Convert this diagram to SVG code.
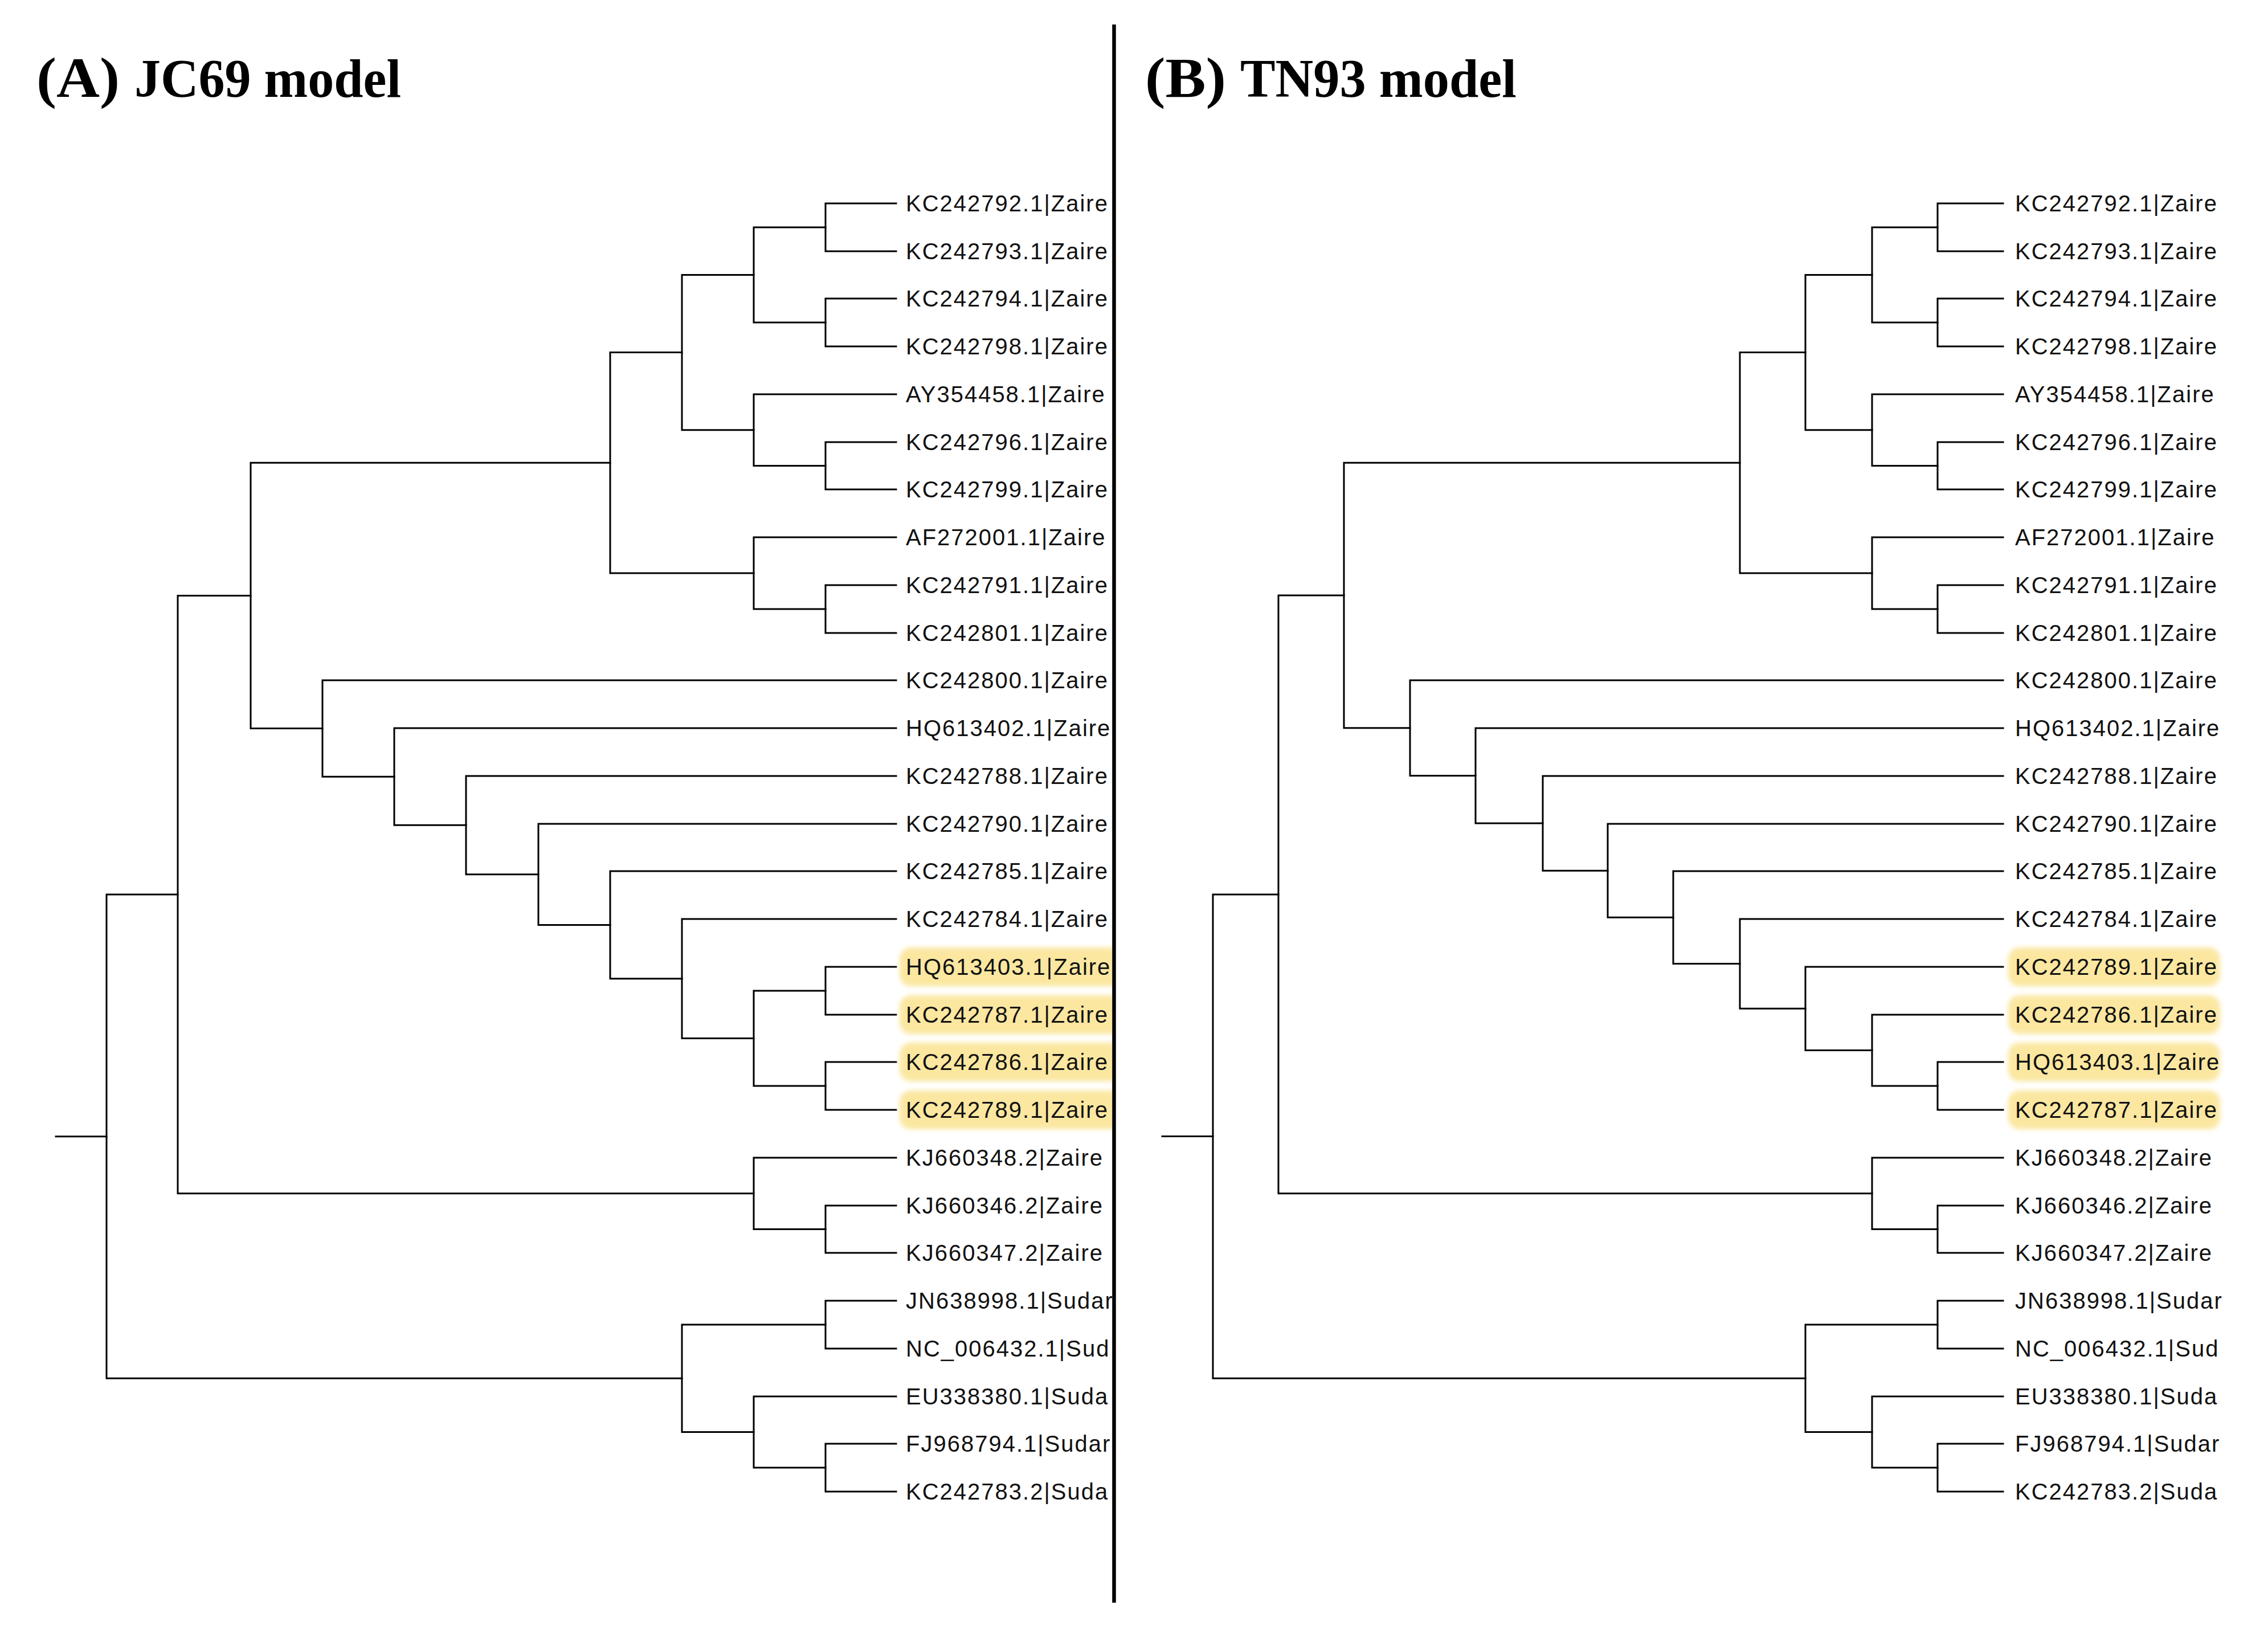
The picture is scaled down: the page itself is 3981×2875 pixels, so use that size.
<svg xmlns="http://www.w3.org/2000/svg" width="3981" height="2875" viewBox="0 0 3981 2875">
<style>
.title{font-family:"Liberation Serif","Times New Roman",serif;font-weight:bold;font-size:96px;fill:#000}
.paren{font-size:100px}
.lab{font-family:"Liberation Sans",Arial,sans-serif;font-size:40px;letter-spacing:2px;fill:#111}
.br{fill:none;stroke:#000;stroke-width:3;stroke-linejoin:miter;stroke-linecap:square}
.hl{fill:#FBE7A0}
</style>
<defs>
<clipPath id="clipA"><rect x="0" y="0" width="1952" height="2875"/></clipPath>
<filter id="soft" x="-10%" y="-40%" width="120%" height="180%"><feGaussianBlur stdDeviation="4"/></filter>
</defs>
<rect width="3981" height="2875" fill="#fff"/>
<g id="title-A"><text class="title paren" x="64" y="170" textLength="146" lengthAdjust="spacingAndGlyphs">(A)</text><text class="title" x="236" y="170" textLength="468" lengthAdjust="spacingAndGlyphs">JC69 model</text></g>
<g id="title-B"><text class="title paren" x="2010" y="170" textLength="142" lengthAdjust="spacingAndGlyphs">(B)</text><text class="title" x="2177" y="170" textLength="485" lengthAdjust="spacingAndGlyphs">TN93 model</text></g>
<g id="divider"><line x1="1955.5" y1="43" x2="1955.5" y2="2813" stroke="#000" stroke-width="6.5"/></g>
<g id="connectors">
<g id="tree-A">
<path class="br" d="M98 1994.7H187"/>
<path class="br" d="M312 1570.1H187V2419.25H1197"/>
<path class="br" d="M440 1045.5H312V2094.75H1323"/>
<path class="br" d="M1071 812.3H440V1278.6H566"/>
<path class="br" d="M1197 618.6H1071V1006H1323"/>
<path class="br" d="M1323 482.5H1197V754.75H1323"/>
<path class="br" d="M1449 399H1323V566H1449"/>
<path class="br" d="M1573 357H1449V441H1573"/>
<path class="br" d="M1573 524H1449V608H1573"/>
<path class="br" d="M1573 692H1323V817.5H1449"/>
<path class="br" d="M1573 776H1449V859H1573"/>
<path class="br" d="M1573 943H1323V1069H1449"/>
<path class="br" d="M1573 1027H1449V1111H1573"/>
<path class="br" d="M1573 1194H566V1363.2H692"/>
<path class="br" d="M1573 1278H692V1448.35H818"/>
<path class="br" d="M1573 1362H818V1534.7H945"/>
<path class="br" d="M1573 1446H945V1623.4H1071"/>
<path class="br" d="M1573 1529H1071V1717.75H1197"/>
<path class="br" d="M1573 1613H1197V1822.5H1323"/>
<path class="br" d="M1449 1739H1323V1906H1449"/>
<path class="br" d="M1573 1697H1449V1781H1573"/>
<path class="br" d="M1573 1864H1449V1948H1573"/>
<path class="br" d="M1573 2032H1323V2157.5H1449"/>
<path class="br" d="M1573 2116H1449V2199H1573"/>
<path class="br" d="M1449 2325H1197V2513.5H1323"/>
<path class="br" d="M1573 2283H1449V2367H1573"/>
<path class="br" d="M1573 2451H1323V2576H1449"/>
<path class="br" d="M1573 2534H1449V2618H1573"/>
</g>
<g id="tree-B">
<path class="br" d="M2040 1994.6H2129"/>
<path class="br" d="M2244 1569.9H2129V2419.25H3169"/>
<path class="br" d="M2359 1045H2244V2094.75H3286"/>
<path class="br" d="M3054 812.3H2359V1277.8H2475"/>
<path class="br" d="M3169 618.6H3054V1006H3286"/>
<path class="br" d="M3286 482.5H3169V754.75H3286"/>
<path class="br" d="M3401 399H3286V566H3401"/>
<path class="br" d="M3516 357H3401V441H3516"/>
<path class="br" d="M3516 524H3401V608H3516"/>
<path class="br" d="M3516 692H3286V817.5H3401"/>
<path class="br" d="M3516 776H3401V859H3516"/>
<path class="br" d="M3516 943H3286V1069H3401"/>
<path class="br" d="M3516 1027H3401V1111H3516"/>
<path class="br" d="M3516 1194H2475V1361.5H2590"/>
<path class="br" d="M3516 1278H2590V1445.1H2708"/>
<path class="br" d="M3516 1362H2708V1528.2H2822"/>
<path class="br" d="M3516 1446H2822V1610.3H2937"/>
<path class="br" d="M3516 1529H2937V1691.6H3054"/>
<path class="br" d="M3516 1613H3054V1770.25H3169"/>
<path class="br" d="M3516 1697H3169V1843.5H3286"/>
<path class="br" d="M3516 1781H3286V1906H3401"/>
<path class="br" d="M3516 1864H3401V1948H3516"/>
<path class="br" d="M3516 2032H3286V2157.5H3401"/>
<path class="br" d="M3516 2116H3401V2199H3516"/>
<path class="br" d="M3401 2325H3169V2513.5H3286"/>
<path class="br" d="M3516 2283H3401V2367H3516"/>
<path class="br" d="M3516 2451H3286V2576H3401"/>
<path class="br" d="M3516 2534H3401V2618H3516"/>
</g>
</g>
<g id="labels-A" clip-path="url(#clipA)">
<g id="A-KC242792"><text class="lab" x="1590" y="371">KC242792.1|Zaire</text></g>
<g id="A-KC242793"><text class="lab" x="1590" y="455">KC242793.1|Zaire</text></g>
<g id="A-KC242794"><text class="lab" x="1590" y="538">KC242794.1|Zaire</text></g>
<g id="A-KC242798"><text class="lab" x="1590" y="622">KC242798.1|Zaire</text></g>
<g id="A-AY354458"><text class="lab" x="1590" y="706">AY354458.1|Zaire</text></g>
<g id="A-KC242796"><text class="lab" x="1590" y="790">KC242796.1|Zaire</text></g>
<g id="A-KC242799"><text class="lab" x="1590" y="873">KC242799.1|Zaire</text></g>
<g id="A-AF272001"><text class="lab" x="1590" y="957">AF272001.1|Zaire</text></g>
<g id="A-KC242791"><text class="lab" x="1590" y="1041">KC242791.1|Zaire</text></g>
<g id="A-KC242801"><text class="lab" x="1590" y="1125">KC242801.1|Zaire</text></g>
<g id="A-KC242800"><text class="lab" x="1590" y="1208">KC242800.1|Zaire</text></g>
<g id="A-HQ613402"><text class="lab" x="1590" y="1292">HQ613402.1|Zaire</text></g>
<g id="A-KC242788"><text class="lab" x="1590" y="1376">KC242788.1|Zaire</text></g>
<g id="A-KC242790"><text class="lab" x="1590" y="1460">KC242790.1|Zaire</text></g>
<g id="A-KC242785"><text class="lab" x="1590" y="1543">KC242785.1|Zaire</text></g>
<g id="A-KC242784"><text class="lab" x="1590" y="1627">KC242784.1|Zaire</text></g>
<g id="A-HQ613403"><rect class="hl" filter="url(#soft)" x="1579" y="1663" width="390" height="68" rx="20"/><text class="lab" x="1590" y="1711">HQ613403.1|Zaire</text></g>
<g id="A-KC242787"><rect class="hl" filter="url(#soft)" x="1579" y="1747" width="390" height="68" rx="20"/><text class="lab" x="1590" y="1795">KC242787.1|Zaire</text></g>
<g id="A-KC242786"><rect class="hl" filter="url(#soft)" x="1579" y="1830" width="390" height="68" rx="20"/><text class="lab" x="1590" y="1878">KC242786.1|Zaire</text></g>
<g id="A-KC242789"><rect class="hl" filter="url(#soft)" x="1579" y="1914" width="390" height="68" rx="20"/><text class="lab" x="1590" y="1962">KC242789.1|Zaire</text></g>
<g id="A-KJ660348"><text class="lab" x="1590" y="2046">KJ660348.2|Zaire</text></g>
<g id="A-KJ660346"><text class="lab" x="1590" y="2130">KJ660346.2|Zaire</text></g>
<g id="A-KJ660347"><text class="lab" x="1590" y="2213">KJ660347.2|Zaire</text></g>
<g id="A-JN638998"><text class="lab" x="1590" y="2297">JN638998.1|Sudar</text></g>
<g id="A-NC_006432"><text class="lab" x="1590" y="2381">NC_006432.1|Sud</text></g>
<g id="A-EU338380"><text class="lab" x="1590" y="2465">EU338380.1|Suda</text></g>
<g id="A-FJ968794"><text class="lab" x="1590" y="2548">FJ968794.1|Sudar</text></g>
<g id="A-KC242783"><text class="lab" x="1590" y="2632">KC242783.2|Suda</text></g>
</g>
<g id="labels-B">
<g id="B-KC242792"><text class="lab" x="3537" y="371">KC242792.1|Zaire</text></g>
<g id="B-KC242793"><text class="lab" x="3537" y="455">KC242793.1|Zaire</text></g>
<g id="B-KC242794"><text class="lab" x="3537" y="538">KC242794.1|Zaire</text></g>
<g id="B-KC242798"><text class="lab" x="3537" y="622">KC242798.1|Zaire</text></g>
<g id="B-AY354458"><text class="lab" x="3537" y="706">AY354458.1|Zaire</text></g>
<g id="B-KC242796"><text class="lab" x="3537" y="790">KC242796.1|Zaire</text></g>
<g id="B-KC242799"><text class="lab" x="3537" y="873">KC242799.1|Zaire</text></g>
<g id="B-AF272001"><text class="lab" x="3537" y="957">AF272001.1|Zaire</text></g>
<g id="B-KC242791"><text class="lab" x="3537" y="1041">KC242791.1|Zaire</text></g>
<g id="B-KC242801"><text class="lab" x="3537" y="1125">KC242801.1|Zaire</text></g>
<g id="B-KC242800"><text class="lab" x="3537" y="1208">KC242800.1|Zaire</text></g>
<g id="B-HQ613402"><text class="lab" x="3537" y="1292">HQ613402.1|Zaire</text></g>
<g id="B-KC242788"><text class="lab" x="3537" y="1376">KC242788.1|Zaire</text></g>
<g id="B-KC242790"><text class="lab" x="3537" y="1460">KC242790.1|Zaire</text></g>
<g id="B-KC242785"><text class="lab" x="3537" y="1543">KC242785.1|Zaire</text></g>
<g id="B-KC242784"><text class="lab" x="3537" y="1627">KC242784.1|Zaire</text></g>
<g id="B-KC242789"><rect class="hl" filter="url(#soft)" x="3525" y="1663" width="372" height="68" rx="20"/><text class="lab" x="3537" y="1711">KC242789.1|Zaire</text></g>
<g id="B-KC242786"><rect class="hl" filter="url(#soft)" x="3525" y="1747" width="372" height="68" rx="20"/><text class="lab" x="3537" y="1795">KC242786.1|Zaire</text></g>
<g id="B-HQ613403"><rect class="hl" filter="url(#soft)" x="3525" y="1830" width="372" height="68" rx="20"/><text class="lab" x="3537" y="1878">HQ613403.1|Zaire</text></g>
<g id="B-KC242787"><rect class="hl" filter="url(#soft)" x="3525" y="1914" width="372" height="68" rx="20"/><text class="lab" x="3537" y="1962">KC242787.1|Zaire</text></g>
<g id="B-KJ660348"><text class="lab" x="3537" y="2046">KJ660348.2|Zaire</text></g>
<g id="B-KJ660346"><text class="lab" x="3537" y="2130">KJ660346.2|Zaire</text></g>
<g id="B-KJ660347"><text class="lab" x="3537" y="2213">KJ660347.2|Zaire</text></g>
<g id="B-JN638998"><text class="lab" x="3537" y="2297">JN638998.1|Sudar</text></g>
<g id="B-NC_006432"><text class="lab" x="3537" y="2381">NC_006432.1|Sud</text></g>
<g id="B-EU338380"><text class="lab" x="3537" y="2465">EU338380.1|Suda</text></g>
<g id="B-FJ968794"><text class="lab" x="3537" y="2548">FJ968794.1|Sudar</text></g>
<g id="B-KC242783"><text class="lab" x="3537" y="2632">KC242783.2|Suda</text></g>
</g>
</svg>
